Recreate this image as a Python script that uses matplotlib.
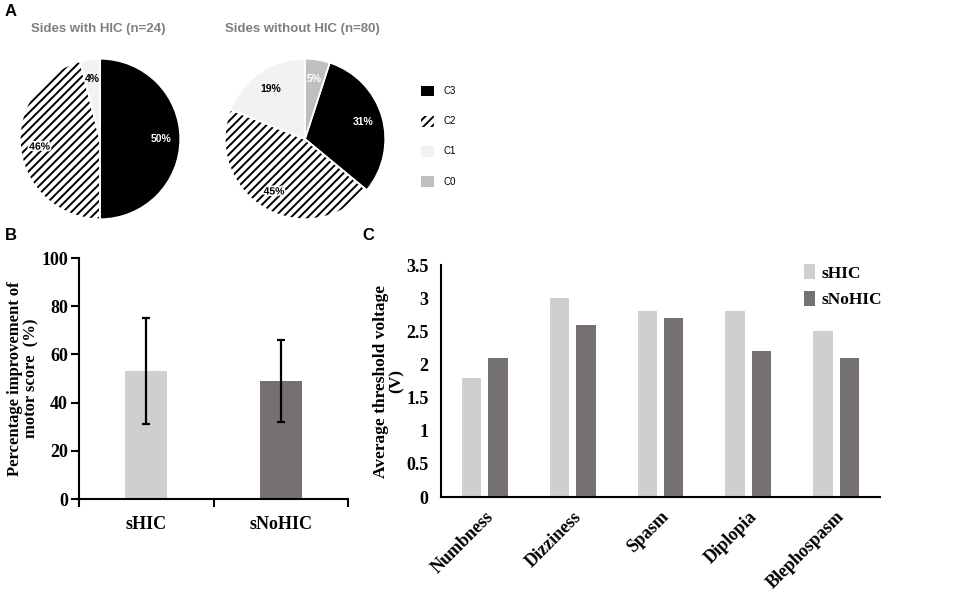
import matplotlib.pyplot as plt
from matplotlib.patches import Patch
import matplotlib.patheffects as pe

# ==============================
# Data
# ==============================
classes = ["C0", "C3", "C2", "C1"]
with_hic = [0, 50, 46, 4]
without_hic = [5, 31, 45, 19]

groups = ["sHIC", "sNoHIC"]
motor_mean = [53, 49]
motor_err = [22, 17]

symptoms = ["Numbness", "Dizziness", "Spasm", "Diplopia", "Blephospasm"]
volt_shic = [1.8, 3.0, 2.8, 2.8, 2.5]
volt_snohic = [2.1, 2.6, 2.7, 2.2, 2.1]

# ==============================
# Styles
# ==============================
W, H = 957, 601
plt.rcParams["hatch.linewidth"] = 1.4
sans = "Liberation Sans"
serif = "Liberation Serif"

pie_face = {"C0": "#BFBFBF", "C3": "black", "C2": "white", "C1": "#F2F2F2"}
pie_hatch = {"C0": None, "C3": None, "C2": "////", "C1": None}
pie_edge = {"C0": "#BFBFBF", "C3": "black", "C2": "black", "C1": "#F2F2F2"}
pie_text = {"C0": "white", "C3": "white", "C2": "black", "C1": "black"}

light = "#D0CECE"
dark = "#767171"


def fax(left, top, width, height):
    return fig.add_axes([left / W, 1 - (top + height) / H, width / W, height / H])


fig = plt.figure(figsize=(W / 100, H / 100), dpi=100)

# ==============================
# A: pies
# ==============================
def draw_pie(ax, values):
    wedges, texts, autotexts = ax.pie(
        values, startangle=90, counterclock=False,
        colors=[pie_face[c] for c in classes],
        autopct=lambda p: f"{p:.0f}%" if p > 0.5 else "",
        pctdistance=0.76,
        wedgeprops=dict(linewidth=0),
        textprops=dict(fontfamily=sans, fontweight="bold", fontsize=7.5),
    )
    for w, t, c in zip(wedges, autotexts, classes):
        if pie_hatch[c]:
            w.set_hatch(pie_hatch[c])
        w.set_edgecolor(pie_edge[c])
        t.set_color(pie_text[c])
        if c == "C2":
            t.set_path_effects([pe.withStroke(linewidth=2.5, foreground="white")])
    ax.pie(values, startangle=90, counterclock=False,
           wedgeprops=dict(facecolor="none", edgecolor="white", linewidth=1.2))
    ax.set_xlim(-1.01, 1.01)
    ax.set_ylim(-1.01, 1.01)
    ax.set_aspect("equal")


ax1 = fax(19, 58, 162, 162)
draw_pie(ax1, with_hic)
ax2 = fax(224, 58, 162, 162)
draw_pie(ax2, without_hic)

fig.text(98 / W, 1 - 29 / H, "Sides with HIC (n=24)", ha="center", va="center",
         fontfamily=sans, fontweight="bold", fontsize=9.5, color="#7F7F7F")
fig.text(302 / W, 1 - 29 / H, "Sides without HIC (n=80)", ha="center", va="center",
         fontfamily=sans, fontweight="bold", fontsize=9.5, color="#7F7F7F")

handles = []
for c in ["C3", "C2", "C1", "C0"]:
    handles.append(Patch(facecolor=pie_face[c], edgecolor=pie_edge[c],
                         hatch=pie_hatch[c], linewidth=0, label=c))
fig.legend(handles=handles, loc="upper left", bbox_to_anchor=(416 / W, 1 - 81 / H),
           frameon=False, borderpad=0, handlelength=1.3, handleheight=1.3,
           handletextpad=1.0, labelspacing=2.0, prop=dict(family=sans, size=7))

# ==============================
# B: motor score bars
# ==============================
axb = fax(79, 258, 269, 241)
xb = range(len(groups))
axb.bar(xb, motor_mean, width=0.31, color=[light, dark], zorder=1)
axb.errorbar(xb, motor_mean, yerr=motor_err, fmt="none", ecolor="black",
             elinewidth=1.6, capsize=3, capthick=1.6, zorder=2)
axb.set_xlim(-0.5, 1.5)
axb.set_ylim(0, 100)
axb.set_yticks([0, 20, 40, 60, 80, 100])
axb.set_xticks(list(xb))
axb.set_xticklabels(groups)
axb.set_xticks([-0.5, 0.5, 1.5], minor=True)
axb.tick_params(axis="x", which="major", length=0, pad=12)
axb.tick_params(axis="x", which="minor", length=6, width=1.5, direction="out")
axb.tick_params(axis="y", length=6, width=1.5, direction="out", pad=2)
for s in ["top", "right"]:
    axb.spines[s].set_visible(False)
for s in ["left", "bottom"]:
    axb.spines[s].set_linewidth(1.5)
for lab in axb.get_xticklabels() + axb.get_yticklabels():
    lab.set_fontfamily(serif)
    lab.set_fontweight("bold")
    lab.set_fontsize(13)
axb.set_ylabel("Percentage improvement of\nmotor score  (%)", fontfamily=serif,
               fontweight="bold", fontsize=12, labelpad=1, linespacing=1.1)

# ==============================
# C: threshold voltage bars
# ==============================
axc = fax(441, 265, 439, 232)
xc = range(len(symptoms))
axc.bar([i - 0.15 for i in xc], volt_shic, width=0.22, color=light, label="sHIC")
axc.bar([i + 0.15 for i in xc], volt_snohic, width=0.22, color=dark, label="sNoHIC")
axc.set_xlim(-0.5, 4.5)
axc.set_ylim(0, 3.5)
axc.set_yticks([0, 0.5, 1, 1.5, 2, 2.5, 3, 3.5])
axc.set_yticklabels(["0", "0.5", "1", "1.5", "2", "2.5", "3", "3.5"])
axc.set_xticks(list(xc))
axc.set_xticklabels(symptoms, rotation=45, ha="right", rotation_mode="anchor")
axc.tick_params(axis="both", length=0)
axc.tick_params(axis="y", pad=9)
axc.tick_params(axis="x", pad=8)
for s in ["top", "right"]:
    axc.spines[s].set_visible(False)
for s in ["left", "bottom"]:
    axc.spines[s].set_linewidth(1.5)
for lab in axc.get_xticklabels() + axc.get_yticklabels():
    lab.set_fontfamily(serif)
    lab.set_fontweight("bold")
    lab.set_fontsize(13)
axc.set_ylabel("Average threshold voltage\n(V)", fontfamily=serif,
               fontweight="bold", fontsize=12.5, labelpad=1, linespacing=1.0)
axc.legend(loc="upper right", bbox_to_anchor=(1.025, 1.04), frameon=False,
           borderpad=0, handlelength=0.6, handleheight=0.9, handletextpad=0.4,
           labelspacing=0.55, prop=dict(family=serif, weight="bold", size=12.5))

# ==============================
# Panel letters
# ==============================
for x, y, t in [(5, 12, "A"), (5, 236, "B"), (362, 236, "C")]:
    fig.text(x / W, 1 - y / H, t, ha="left", va="center", fontfamily=sans,
             fontweight="bold", fontsize=12)

fig.savefig("out.png", dpi=100)
